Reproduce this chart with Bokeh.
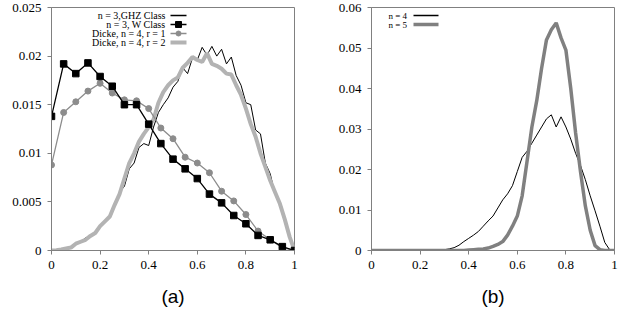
from bokeh.plotting import figure
from bokeh.layouts import row
from bokeh.models import Range1d, FixedTicker
from bokeh.core.properties import value
from bokeh.embed import file_html
from bokeh.resources import INLINE

# ---------------- data: panel (a) ----------------
x_coarse = [0, 0.05, 0.1, 0.15, 0.2, 0.25, 0.3, 0.35, 0.4, 0.45, 0.5,
            0.55, 0.6, 0.65, 0.7, 0.75, 0.8, 0.85, 0.9, 0.95, 1.0]
w_class = [0.0138, 0.0192, 0.0182, 0.0193, 0.0179, 0.0169, 0.0150, 0.0150, 0.0130, 0.0110, 0.0094,
           0.0084, 0.0074, 0.0058, 0.0049, 0.0036, 0.00275, 0.00155, 0.0011, 0.0004, 0.0]
dicke_r1 = [0.0088, 0.0142, 0.0153, 0.0164, 0.0172, 0.0162, 0.0155, 0.0154, 0.0146, 0.0126, 0.0115,
            0.0096, 0.0090, 0.0080, 0.0061, 0.0051, 0.0037, 0.0020, 0.0011, 0.0003, 0.0]

x_fine = [0, 0.02, 0.04, 0.06, 0.08, 0.1, 0.12, 0.14, 0.16, 0.18, 0.2,
          0.22, 0.24, 0.26, 0.28, 0.3, 0.32, 0.34, 0.36, 0.38, 0.4,
          0.42, 0.44, 0.46, 0.48, 0.5, 0.52, 0.54, 0.56, 0.58, 0.6,
          0.62, 0.64, 0.66, 0.68, 0.7, 0.72, 0.74, 0.76, 0.78, 0.8,
          0.82, 0.84, 0.86, 0.88, 0.9, 0.92, 0.94, 0.96, 0.98, 1.0]
ghz = [0.0, 0.00002, 0.00005, 0.0001, 0.0003, 0.0007, 0.0009, 0.0013, 0.0015, 0.0019, 0.0025,
       0.0030, 0.0036, 0.0048, 0.0060, 0.0066, 0.0084, 0.0090, 0.0106, 0.0110, 0.0108,
       0.0127, 0.0142, 0.0150, 0.0157, 0.0168, 0.0174, 0.0188, 0.0182, 0.0198, 0.0196,
       0.0209, 0.0201, 0.0210, 0.0200, 0.0207, 0.0192, 0.0199, 0.0180, 0.0170, 0.0152,
       0.0150, 0.0124, 0.0120, 0.0090, 0.0079, 0.0058, 0.0050, 0.0030, 0.0013, 0.0]
dicke_r2 = [0.0, 0.00003, 0.0001, 0.0002, 0.0003, 0.0007, 0.0009, 0.0011, 0.0015, 0.0018, 0.0025,
            0.0030, 0.0035, 0.0047, 0.0058, 0.0074, 0.0090, 0.0100, 0.0112, 0.0120, 0.0127,
            0.0135, 0.0152, 0.0163, 0.0170, 0.0175, 0.0178, 0.0188, 0.0193, 0.0199, 0.0196,
            0.0194, 0.0203, 0.0192, 0.0190, 0.0187, 0.0182, 0.0181, 0.0170, 0.0160, 0.0146,
            0.0130, 0.0117, 0.0100, 0.0086, 0.0072, 0.0060, 0.0048, 0.0032, 0.0014, 0.0]

# ---------------- data: panel (b) ----------------
n4 = [0, 0, 0, 0, 0, 0, 0, 0, 0, 0, 0,
      0, 0, 0, 0, 0.0002, 0.0004, 0.0007, 0.0013, 0.0022, 0.0030,
      0.0038, 0.0047, 0.0060, 0.0073, 0.0085, 0.0105, 0.0125, 0.0140, 0.0160, 0.0195,
      0.0230, 0.0245, 0.0265, 0.0285, 0.0305, 0.0325, 0.0335, 0.0305, 0.0330, 0.0305,
      0.0275, 0.0240, 0.0210, 0.0175, 0.0135, 0.0098, 0.0060, 0.0020, 0.0002, 0]
n5 = [0, 0, 0, 0, 0, 0, 0, 0, 0, 0, 0,
      0, 0, 0, 0, 0, 0, 0, 0, 0, 0.0001,
      0.0002, 0.0003, 0.0004, 0.0006, 0.0010, 0.0015, 0.0022, 0.0038, 0.0060, 0.0085,
      0.0135, 0.0220, 0.0305, 0.0370, 0.0450, 0.0520, 0.0545, 0.0562, 0.0525, 0.0495,
      0.0400, 0.0290, 0.0195, 0.0110, 0.0050, 0.0012, 0.0002, 0, 0, 0]

# ---------------- ticks & texts ----------------
x_ticks = [0, 0.2, 0.4, 0.6, 0.8, 1.0]
x_tick_labels = ["0", "0.2", "0.4", "0.6", "0.8", "1"]
ya_ticks = [0, 0.005, 0.01, 0.015, 0.02, 0.025]
ya_tick_labels = ["0", "0.005", "0.01", "0.015", "0.02", "0.025"]
yb_ticks = [0, 0.01, 0.02, 0.03, 0.04, 0.05, 0.06]
yb_tick_labels = ["0", "0.01", "0.02", "0.03", "0.04", "0.05", "0.06"]
legend_a = ["n = 3,GHZ Class", "n = 3, W Class", "Dicke, n = 4, r = 1", "Dicke, n = 4, r = 2"]
legend_b = ["n = 4", "n = 5"]
panel_titles = ["(a)", "(b)"]

SERIF = "Liberation Serif"
AXIS_GRAY = "#808080"
FIG_H = 322
TOP = 7
BOTTOM = 72
FRAME_H = FIG_H - TOP - BOTTOM


def style(p, yticks, ylabels, title):
    p.xaxis.ticker = FixedTicker(ticks=x_ticks)
    p.xaxis.major_label_overrides = {t: l for t, l in zip(x_ticks, x_tick_labels)}
    p.yaxis.ticker = FixedTicker(ticks=yticks)
    p.yaxis.major_label_overrides = {t: l for t, l in zip(yticks, ylabels)}
    for ax in (p.xaxis[0], p.yaxis[0]):
        ax.axis_line_color = AXIS_GRAY
        ax.major_tick_line_color = AXIS_GRAY
        ax.major_tick_out = 4
        ax.major_tick_in = 0
        ax.minor_tick_line_color = None
        ax.major_label_text_font = SERIF
        ax.major_label_text_font_size = "13px"
        ax.major_label_text_color = "black"
        ax.major_label_standoff = 6
    p.xaxis.axis_label = title
    p.xaxis.axis_label_text_font = "Liberation Sans"
    p.xaxis.axis_label_text_font_style = "normal"
    p.xaxis.axis_label_text_font_size = "19px"
    p.xaxis.axis_label_text_color = "black"
    p.xaxis.axis_label_standoff = 14
    p.xgrid.visible = False
    p.ygrid.visible = False
    p.outline_line_color = AXIS_GRAY
    p.outline_line_width = 1
    p.background_fill_color = "white"
    p.border_fill_color = "white"


# ---------------- panel (a) ----------------
WA = 320
LA, RA = 51, 26
FWA = WA - LA - RA
pa = figure(width=WA, height=FIG_H, output_backend="svg", toolbar_location=None,
            x_range=Range1d(0, 1), y_range=Range1d(0, 0.025),
            min_border_left=LA, min_border_right=RA, min_border_top=TOP, min_border_bottom=BOTTOM)
style(pa, ya_ticks, ya_tick_labels, panel_titles[0])
pa.extra_x_ranges = {"px": Range1d(0, FWA)}
pa.extra_y_ranges = {"px": Range1d(0, FRAME_H)}

pa.line(x_fine, ghz, line_color="black", line_width=1)
pa.line(x_fine, dicke_r2, line_color="#b3b3b3", line_width=4)
pa.line(x_coarse, dicke_r1, line_color="#8c8c8c", line_width=1.3)
pa.scatter(x_coarse, dicke_r1, marker="circle", size=6, fill_color="#8c8c8c", line_color="#8c8c8c")
pa.line(x_coarse, w_class, line_color="black", line_width=1.3)
pa.scatter(x_coarse, w_class, marker="square", size=6.5, fill_color="black", line_color="black")

# manual legend: text right-aligned, sample glyph to the right (frame pixel coords)
leg_rows = [FRAME_H - 8, FRAME_H - 17, FRAME_H - 26, FRAME_H - 35]
txt_x = 114
seg_x0, seg_x1 = 119, 135
pa.text(x=[txt_x] * 4, y=leg_rows, text=legend_a, text_align="right", text_baseline="middle",
        text_font=value(SERIF), text_font_size="10px", text_color="black",
        x_range_name="px", y_range_name="px")
pa.line([seg_x0, seg_x1], [leg_rows[0]] * 2, line_color="black", line_width=1.5,
        x_range_name="px", y_range_name="px")
pa.line([seg_x0, seg_x1], [leg_rows[1]] * 2, line_color="black", line_width=1.5,
        x_range_name="px", y_range_name="px")
pa.scatter([(seg_x0 + seg_x1) / 2], [leg_rows[1]], marker="square", size=6, fill_color="black",
           line_color="black", x_range_name="px", y_range_name="px")
pa.line([seg_x0, seg_x1], [leg_rows[2]] * 2, line_color="#8c8c8c", line_width=1.3,
        x_range_name="px", y_range_name="px")
pa.scatter([(seg_x0 + seg_x1) / 2], [leg_rows[2]], marker="circle", size=5, fill_color="#8c8c8c",
           line_color="#8c8c8c", x_range_name="px", y_range_name="px")
pa.line([seg_x0, seg_x1], [leg_rows[3]] * 2, line_color="#b3b3b3", line_width=4,
        x_range_name="px", y_range_name="px")

# ---------------- panel (b) ----------------
WB = 302
LB, RB = 51, 8
FWB = WB - LB - RB
pb = figure(width=WB, height=FIG_H, output_backend="svg", toolbar_location=None,
            x_range=Range1d(0, 1), y_range=Range1d(0, 0.06),
            min_border_left=LB, min_border_right=RB, min_border_top=TOP, min_border_bottom=BOTTOM)
style(pb, yb_ticks, yb_tick_labels, panel_titles[1])
pb.extra_x_ranges = {"px": Range1d(0, FWB)}
pb.extra_y_ranges = {"px": Range1d(0, FRAME_H)}

pb.line(x_fine, n4, line_color="black", line_width=1)
pb.line(x_fine, n5, line_color="#808080", line_width=3.5)

leg_rows_b = [FRAME_H - 8, FRAME_H - 17]
pb.text(x=[17, 17], y=leg_rows_b, text=legend_b, text_align="left", text_baseline="middle",
        text_font=value(SERIF), text_font_size="9px", text_color="black",
        x_range_name="px", y_range_name="px")
pb.line([42, 67], [leg_rows_b[0]] * 2, line_color="black", line_width=1.5,
        x_range_name="px", y_range_name="px")
pb.line([42, 67], [leg_rows_b[1]] * 2, line_color="#808080", line_width=3.5,
        x_range_name="px", y_range_name="px")

layout = row(pa, pb, spacing=0)
open("out.html", "w").write(file_html(layout, INLINE))
